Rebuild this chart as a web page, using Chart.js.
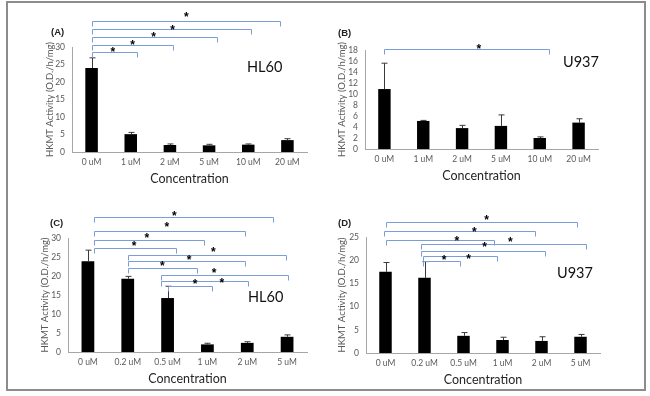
<!DOCTYPE html>
<html>
<head>
<meta charset="utf-8">
<script src="https://cdn.jsdelivr.net/npm/chart.js@4.4.1/dist/chart.umd.min.js"></script>
<style>
  html, body { margin: 0; padding: 0; background: #fff; }
  #page { position: relative; width: 650px; height: 396px; overflow: hidden; }
  #frame { position: absolute; left: 6px; top: 1px; width: 636px; height: 386px; border: 2px solid #8c8c8c; }
  canvas { position: absolute; }
  .tag { position: absolute; font: bold 9.5px "Liberation Sans", Arial, sans-serif; color: #222; line-height: 1; }
  .cell { position: absolute; font: 14.5px Lato, sans-serif; color: #111; line-height: 1; }
</style>
</head>
<body>
<div id="page">
  <div id="frame"></div>
  <canvas id="chA" width="325" height="200" style="left:0;top:0"></canvas>
  <canvas id="chB" width="325" height="200" style="left:325px;top:0"></canvas>
  <canvas id="chC" width="325" height="196" style="left:0;top:200px"></canvas>
  <canvas id="chD" width="325" height="196" style="left:325px;top:200px"></canvas>
  <div class="tag" style="left:51px;top:27px">(A)</div>
  <div class="tag" style="left:338px;top:28px">(B)</div>
  <div class="tag" style="left:50px;top:218px">(C)</div>
  <div class="tag" style="left:338px;top:218px">(D)</div>
  <div class="cell" style="left:247px;top:60px">HL60</div>
  <div class="cell" style="left:563px;top:55px">U937</div>
  <div class="cell" style="left:248px;top:290px">HL60</div>
  <div class="cell" style="left:557px;top:266px">U937</div>
</div>
<script>
// concentrations
const concLong = ['0 uM', '1 uM', '2 uM', '5 uM', '10 uM', '20 uM'];
const concShort = ['0 uM', '0.2 uM', '0.5 uM', '1 uM', '2 uM', '5 uM'];

// HKMT activity (O.D./h/mg) and upper error
const hl60A = [24.0, 5.1, 2.0, 1.9, 2.1, 3.4];
const hl60AErr = [2.9, 0.5, 0.3, 0.3, 0.2, 0.4];
const u937B = [10.9, 5.1, 3.8, 4.2, 2.0, 4.8];
const u937BErr = [4.7, 0.1, 0.5, 2.0, 0.2, 0.7];
const hl60C = [23.9, 19.3, 14.2, 2.0, 2.4, 4.0];
const hl60CErr = [2.9, 0.6, 3.1, 0.3, 0.3, 0.5];
const u937D = [17.5, 16.2, 3.7, 2.8, 2.6, 3.5];
const u937DErr = [2.0, 3.5, 0.7, 0.6, 0.9, 0.5];

// significance brackets: [from idx, to idx, line y, star idx, star y]
const sigA = [[0, 1.15, 28.6, 0.54, 29.4], [0, 2.09, 30.6, 1.05, 31.4], [0, 3.19, 32.9, 1.58, 33.7],
              [0, 4.06, 35.1, 2.07, 35.7], [0, 4.82, 37.4, 2.42, 39.4]];
const sigB = [[0, 4.24, 18.2, 2.43, 18.8]];
const sigC = [[0.15, 4.64, 35.4, 2.17, 36.6], [0.15, 3.95, 31.9, 1.98, 33.7], [0.15, 2.92, 29.6, 1.48, 30.7],
              [0.15, 2.21, 27.4, 1.16, 28.7], [1.01, 4.98, 25.6, 3.15, 27.2], [1.01, 3.95, 23.9, 2.54, 25.0],
              [1.01, 2.73, 22.1, 1.87, 23.4], [1.84, 5.03, 20.3, 3.17, 21.7], [1.84, 4.01, 18.7, 3.36, 18.9],
              [2.0, 3.11, 17.4, 2.69, 18.6]];
const sigD = [[0, 4.92, 28.3, 2.59, 29.3], [-0.03, 3.83, 26.3, 2.28, 26.7], [0, 2.79, 24.4, 1.83, 24.8],
              [0.91, 5.15, 23.5, 3.2, 24.6], [0.91, 4.09, 22.0, 2.54, 23.5], [0.96, 2.87, 20.8, 2.13, 20.9],
              [0.96, 1.9, 19.9, 1.5, 20.6]];

// error bars + brackets
const extras = {
  id: 'extras',
  afterDatasetsDraw(chart, args, opts) {
    const {ctx, scales: {x, y}} = chart;
    const meta = chart.getDatasetMeta(0);
    ctx.save();
    ctx.strokeStyle = '#3a3a3a';
    ctx.lineWidth = 1;
    meta.data.forEach((bar, i) => {
      const top = y.getPixelForValue(opts.values[i] + opts.errors[i]);
      const bx = Math.round(bar.x) + 0.5;
      ctx.beginPath();
      ctx.moveTo(bx, bar.y);
      ctx.lineTo(bx, top);
      ctx.moveTo(bx - 3, top);
      ctx.lineTo(bx + 3, top);
      ctx.stroke();
    });
    ctx.strokeStyle = '#7c9dd8';
    opts.sig.forEach(([a, b, v, sx, sv]) => {
      const x1 = Math.round(x.getPixelForValue(a)) + 0.5;
      const x2 = Math.round(x.getPixelForValue(b)) + 0.5;
      const yy = Math.round(y.getPixelForValue(v)) + 0.5;
      ctx.beginPath();
      ctx.moveTo(x1, yy + 5);
      ctx.lineTo(x1, yy);
      ctx.lineTo(x2, yy);
      ctx.lineTo(x2, yy + 5);
      ctx.stroke();
      ctx.fillStyle = '#000';
      ctx.font = 'bold 12px "Liberation Sans", Arial, sans-serif';
      ctx.textAlign = 'center';
      ctx.textBaseline = 'alphabetic';
      ctx.fillText('*', x.getPixelForValue(sx), y.getPixelForValue(sv) + 7);
    });
    ctx.restore();
  }
};

function makePanel(id, labels, values, errors, sig, yMax, step, box) {
  const canvas = document.getElementById(id);
  const W = canvas.width, H = canvas.height;
  const yTitleSize = 9.5, xTitleSize = 12.5;
  const padL = box.yTitle - yTitleSize * 0.6;
  const padB = H - box.xTitle - xTitleSize * 0.6;
  return new Chart(canvas, {
    type: 'bar',
    data: {
      labels: labels,
      datasets: [{
        data: values,
        backgroundColor: '#000',
        barPercentage: 0.32,
        categoryPercentage: 1
      }]
    },
    options: {
      responsive: false,
      animation: false,
      layout: { padding: { left: padL, top: box.top, right: W - box.right, bottom: padB } },
      plugins: {
        legend: { display: false },
        tooltip: { enabled: false },
        extras: { values: values, errors: errors, sig: sig }
      },
      scales: {
        x: {
          grid: { display: false, drawTicks: false },
          border: { color: '#a6a6a6' },
          ticks: { color: '#595959', font: { family: 'Lato', size: 8.5 }, padding: 5, maxRotation: 0, autoSkip: false },
          title: { display: true, text: 'Concentration', color: '#262626', font: { family: 'Lato', size: xTitleSize }, padding: 0 },
          afterFit: s => { s.height = H - padB - box.bottom; }
        },
        y: {
          min: 0, max: yMax,
          grid: { display: false, drawTicks: false },
          border: { color: '#a6a6a6' },
          ticks: { stepSize: step, autoSkip: false, color: '#595959', font: { family: 'Lato', size: 8.5 }, padding: 7 },
          title: { display: true, text: 'HKMT Activity (O.D./h/mg)', color: '#595959', font: { family: 'Lato', size: yTitleSize }, padding: 0 },
          afterFit: s => { s.width = box.left - padL; }
        }
      }
    },
    plugins: [extras]
  });
}

makePanel('chA', concLong, hl60A, hl60AErr, sigA, 30, 5, { left: 72, right: 307, top: 47, bottom: 152, yTitle: 50, xTitle: 179 });
makePanel('chB', concLong, u937B, u937BErr, sigB, 18, 2, { left: 40, right: 273, top: 50, bottom: 149, yTitle: 17, xTitle: 176 });
makePanel('chC', concShort, hl60C, hl60CErr, sigC, 30, 5, { left: 68, right: 307, top: 38, bottom: 152, yTitle: 45, xTitle: 179 });
makePanel('chD', concShort, u937D, u937DErr, sigD, 25, 5, { left: 41, right: 275, top: 37, bottom: 153, yTitle: 17, xTitle: 180 });
</script>
</body>
</html>
